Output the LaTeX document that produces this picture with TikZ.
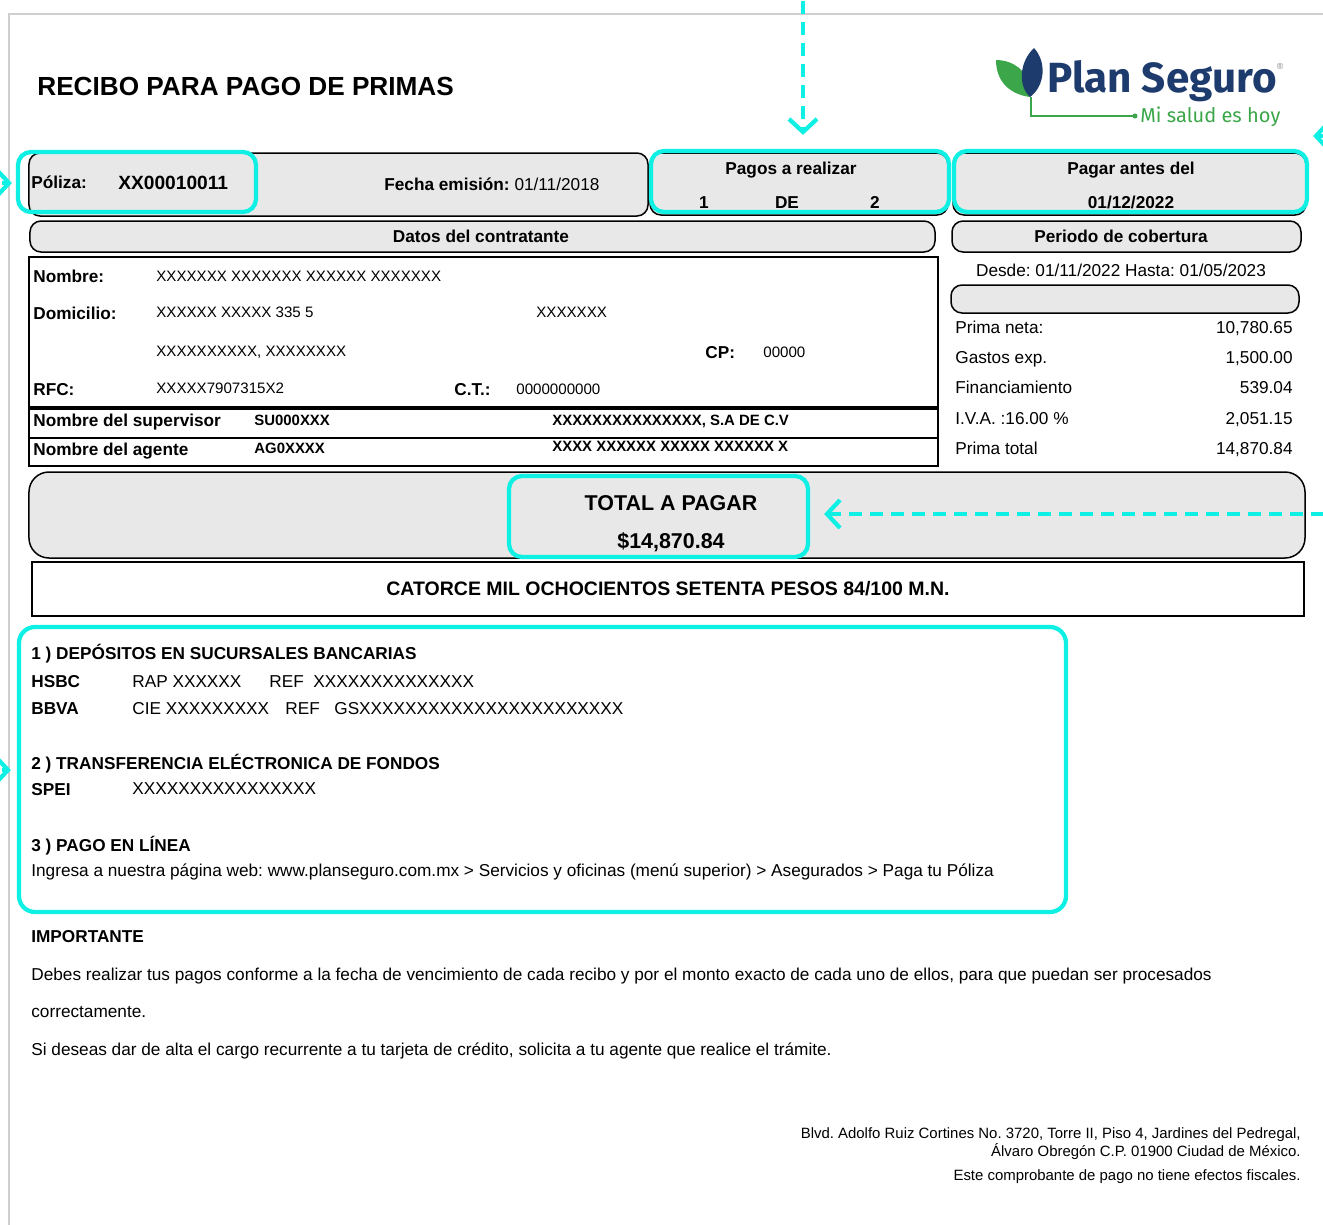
\documentclass[tikz,border=0pt]{standalone}
\usepackage{fontspec}
\setmainfont{Liberation Sans}
\newfontfamily\logofont{Fira Sans}
\usetikzlibrary{arrows.meta,positioning}
\definecolor{ps_cyan}{HTML}{0EF0E4}
\definecolor{ps_gray}{HTML}{E8E8E8}
\definecolor{ps_blue}{HTML}{1D3B6C}
\definecolor{ps_green}{HTML}{3BA64A}
\definecolor{ps_shadow}{HTML}{CFCFCF}
\tikzset{
  graybox/.style={rectangle, rounded corners=2.2mm, draw=black, line width=0.3mm, fill=ps_gray, inner sep=0pt},
  cyanbox/.style={rectangle, rounded corners=2.6mm, draw=ps_cyan, line width=0.85mm, inner sep=0pt},
  linebox/.style={rectangle, draw=black, line width=0.45mm, inner sep=0pt},
  txt/.style={anchor=base west, inner sep=0pt, font=\fontsize{9.8}{11}\selectfont},
  btxt/.style={txt, font=\fontsize{9.8}{11}\selectfont\bfseries},
  vtxt/.style={txt, font=\fontsize{8.6}{10}\selectfont},
  bvtxt/.style={txt, font=\fontsize{8.5}{10}\selectfont\bfseries},
  amount/.style={txt, anchor=base east},
  foot/.style={anchor=base east, inner sep=0pt, font=\fontsize{8.5}{9}\selectfont},
  cyanarrow/.style={-{Straight Barb[length=2.6mm,width=5.6mm]}, draw=ps_cyan, line width=0.85mm, dash pattern=on 2.6mm off 1.6mm}
}
\begin{document}
\frenchspacing
\begin{tikzpicture}[x=0.2mm, y=-0.2mm]
\useasboundingbox (0,0) rectangle (1323,1225);
\clip (0,0) rectangle (1323,1225);
\fill[white] (0,0) rectangle (1323,1225);
\draw[ps_shadow, line width=0.5mm] (9,1230) -- (9,14) -- (1330,14);

% logo
\fill[ps_green] (996,60) .. controls (1014,60) and (1027,72) .. (1029,84) -- (1030,97) .. controls (1008,94) and (996,80) .. cycle;
\fill[ps_blue] (1034,48) .. controls (1019,62) and (1018,86) .. (1030,97) .. controls (1045,86) and (1047,62) .. cycle;
\draw[ps_green, line width=0.3mm] (1031,97) -- (1031,116) -- (1135,116);
\fill[ps_green] (1135,116) circle (0.5mm);
\node (LogoName) [anchor=base west, inner sep=0pt, font=\logofont\bfseries\fontsize{24}{24}\selectfont, text=ps_blue] at (1047,92) {Plan Seguro};
\node (LogoReg) [anchor=center, inner sep=0pt, font=\fontsize{5}{5}\selectfont, text=gray] at (1280,66) {\textregistered};
\node (LogoSlogan) [anchor=base west, inner sep=0pt, font=\logofont\fontsize{11.4}{12}\selectfont, text=ps_green] at (1140,122) {Mi salud es hoy};

\node (Title) [anchor=base west, inner sep=0pt, font=\fontsize{14.9}{16}\selectfont\bfseries] at (37,95) {RECIBO PARA PAGO DE PRIMAS};

% boxes
\node (boxPoliza) [graybox, minimum width=123.8mm, minimum height=12.6mm] at (338.5,184.5) {};
\node (boxPagos) [graybox, minimum width=59.6mm, minimum height=12.4mm] at (799,184) {};
\node (boxFecha) [graybox, minimum width=70.6mm, minimum height=12.4mm] at (1129.5,184) {};
\node (boxDatos) [graybox, minimum width=181mm, minimum height=6.2mm] at (482.5,236.5) {};
\node (boxPeriodo) [graybox, minimum width=69.8mm, minimum height=6.2mm] at (1126.5,236.5) {};
\node (boxBlank) [graybox, minimum width=69.6mm, minimum height=5.6mm] at (1125,299) {};
\node (boxCliente) [linebox, minimum width=181.8mm, minimum height=41.8mm] at (483.5,361.5) {};
\draw[line width=0.7mm] (29,408) -- (938,408);
\draw[line width=0.4mm] (29,438) -- (938,438);
\node (boxTotal) [graybox, rounded corners=4mm, minimum width=255.2mm, minimum height=17.2mm] at (667,515) {};
\node (boxLetra) [linebox, minimum width=254.4mm, minimum height=10.8mm] at (668,589) {};

% highlights
\node (hiPoliza) [cyanbox, minimum width=47.6mm, minimum height=12mm] at (137,182) {};
\node (hiPagos) [cyanbox, minimum width=59.6mm, minimum height=12.2mm] at (800,181.5) {};
\node (hiFecha) [cyanbox, minimum width=70.6mm, minimum height=12.2mm] at (1130.5,181.5) {};
\node (hiTotal) [cyanbox, minimum width=59.8mm, minimum height=16.2mm] at (658.5,516.5) {};
\node (hiPago) [cyanbox, rounded corners=3.2mm, minimum width=209.4mm, minimum height=57mm] at (542.5,769.5) {};

% row 1
\node (Poliza) [btxt] at (31,188) {Póliza:};
\node (PolizaNum) [txt, font=\fontsize{10.9}{12}\selectfont\bfseries] at (118,189) {XX00010011};
\node (Emision) [txt] at (384,190) {\bfseries Fecha emisión: \mdseries 01/11/2018};
\node (Pagos) [btxt, anchor=base] at (791,174) {Pagos a realizar};
\node (PagoUno) [btxt, anchor=base] at (704,208) {1};
\node (PagoDe) [btxt, anchor=base] at (787,208) {DE};
\node (PagoDos) [btxt, anchor=base] at (875,208) {2};
\node (Antes) [btxt, anchor=base] at (1131,174) {Pagar antes del};
\node (AntesFecha) [btxt, anchor=base] at (1131,208) {01/12/2022};
\node (Datos) [btxt, anchor=base] at (481,242) {Datos del contratante};
\node (Periodo) [btxt, anchor=base] at (1121,242) {Periodo de cobertura};

% datos del contratante
\node (Nombre) [btxt] at (33,282) {Nombre:};
\node (NombreVal) [vtxt] at (156,281) {XXXXXXX XXXXXXX XXXXXX XXXXXXX};
\node (Domicilio) [btxt] at (33,319) {Domicilio:};
\node (DomVal) [vtxt] at (156,317) {XXXXXX XXXXX 335 5};
\node (DomCol) [vtxt] at (536,317) {XXXXXXX};
\node (DomCiudad) [vtxt] at (156,356) {XXXXXXXXXX, XXXXXXXX};
\node (CP) [btxt] at (705,358) {CP:};
\node (CPVal) [vtxt] at (763,357) {00000};
\node (RFC) [btxt] at (33,395) {RFC:};
\node (RFCVal) [vtxt] at (156,393) {XXXXX7907315X2};
\node (CT) [btxt] at (454,395) {C.T.:};
\node (CTVal) [vtxt] at (516,394) {0000000000};
\node (Supervisor) [btxt] at (33,426) {Nombre del supervisor};
\node (SupCod) [bvtxt] at (254,425) {SU000XXX};
\node (SupNom) [bvtxt] at (552,425) {XXXXXXXXXXXXXXX, S.A DE C.V};
\node (Agente) [btxt] at (33,455) {Nombre del agente};
\node (AgeCod) [bvtxt] at (254,453) {AG0XXXX};
\node (AgeNom) [bvtxt] at (552,451) {XXXX XXXXXX XXXXX XXXXXX X};

% cobertura
\node (Desde) [txt, anchor=base] at (1121,276) {Desde: 01/11/2022 Hasta: 01/05/2023};
\node (Neta) [txt] at (955,333) {Prima neta:};
\node (NetaVal) [amount] at (1293,333) {10,780.65};
\node (Gastos) [txt] at (955,363) {Gastos exp.};
\node (GastosVal) [amount] at (1293,363) {1,500.00};
\node (Financ) [txt] at (955,393) {Financiamiento};
\node (FinancVal) [amount] at (1293,393) {539.04};
\node (IVA) [txt] at (955,424) {I.V.A. :16.00 \%};
\node (IVAVal) [amount] at (1293,424) {2,051.15};
\node (PTotal) [txt] at (955,454) {Prima total};
\node (PTotalVal) [amount] at (1293,454) {14,870.84};

% total
\node (TotalLbl) [txt, anchor=base, font=\fontsize{12.2}{14}\selectfont\bfseries] at (671,510) {TOTAL A PAGAR};
\node (TotalVal) [txt, anchor=base, font=\fontsize{12.2}{14}\selectfont\bfseries] at (671,548) {\$14,870.84};
\node (Letra) [txt, anchor=base, font=\fontsize{11.1}{12}\selectfont\bfseries] at (668,595) {CATORCE MIL OCHOCIENTOS SETENTA PESOS 84/100 M.N.};

% formas de pago
\node (Dep) [btxt] at (31,659) {1 ) DEPÓSITOS EN SUCURSALES BANCARIAS};
\node (HSBC) [btxt] at (31,687) {HSBC};
\node (HSBCrap) [txt] at (132,687) {RAP XXXXXX};
\node (HSBCref) [txt] at (269,687) {REF\ \ XXXXXXXXXXXXXX};
\node (BBVA) [btxt] at (31,714) {BBVA};
\node (BBVAcie) [txt] at (132,714) {CIE XXXXXXXXX};
\node (BBVAref) [txt] at (285,714) {REF};
\node (BBVAgs) [txt] at (334,714) {GSXXXXXXXXXXXXXXXXXXXXXXX};
\node (Transf) [btxt] at (31,769) {2 ) TRANSFERENCIA ELÉCTRONICA DE FONDOS};
\node (SPEI) [btxt] at (31,795) {SPEI};
\node (SPEIval) [txt] at (132,794) {XXXXXXXXXXXXXXXX};
\node (Linea) [btxt] at (31,851) {3 ) PAGO EN LÍNEA};
\node (LineaTxt) [txt] at (31,876) {Ingresa a nuestra página web: www.planseguro.com.mx > Servicios y oficinas (menú superior) > Asegurados > Paga tu Póliza};

% importante
\node (Imp) [btxt] at (31,942) {IMPORTANTE};
\node (ImpUno) [txt] at (31,980) {Debes realizar tus pagos conforme a la fecha de vencimiento de cada recibo y por el monto exacto de cada uno de ellos, para que puedan ser procesados};
\node (ImpDos) [txt] at (31,1017) {correctamente.};
\node (ImpTres) [txt] at (31,1055) {Si deseas dar de alta el cargo recurrente a tu tarjeta de crédito, solicita a tu agente que realice el trámite.};

% pie
\node (Dir) [foot] at (1301,1138) {Blvd. Adolfo Ruiz Cortines No. 3720, Torre II, Piso 4, Jardines del Pedregal,};
\node (DirDos) [foot] at (1301,1156) {Álvaro Obregón C.P. 01900 Ciudad de México.};
\node (Fiscal) [foot] at (1301,1180) {Este comprobante de pago no tiene efectos fiscales.};

% flechas
\coordinate (srcPagos) at (803,-20);
\coordinate (srcTotal) at (1345,514);
\coordinate (srcFecha) at (1350,136);
\coordinate (srcPoliza) at (-40,183);
\coordinate (srcPago) at (-40,770);
\path [cyanarrow] (srcPagos) edge [shorten >=2.8mm] (srcPagos |- hiPagos.north);
\path [cyanarrow] (srcTotal) edge [shorten >=2.8mm] (srcTotal -| hiTotal.east);
\path [cyanarrow] (srcFecha) edge [shorten >=0.8mm] (srcFecha -| hiFecha.east);
\path [cyanarrow] (srcPoliza) edge [shorten >=0.8mm] (srcPoliza -| hiPoliza.west);
\path [cyanarrow] (srcPago) edge [shorten >=1.2mm] (srcPago -| hiPago.west);
\end{tikzpicture}
\end{document}
